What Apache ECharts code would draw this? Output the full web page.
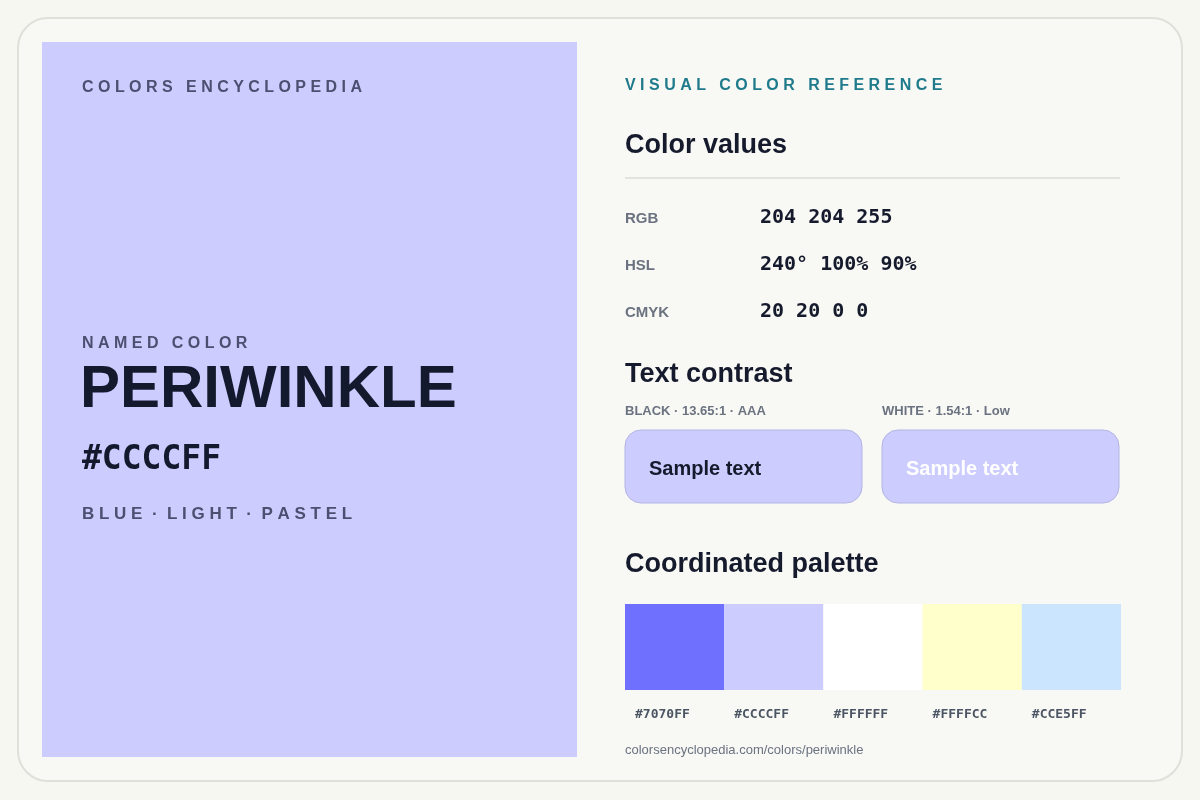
<!DOCTYPE html>
<html><head><meta charset="utf-8">
<script src="https://cdn.jsdelivr.net/npm/echarts@6/dist/echarts.min.js"></script>
<style>html,body{margin:0;padding:0;background:#f7f7f2}#c{width:1200px;height:800px}</style>
</head><body><div id="c"></div>
<script>
const paletteHex = ['#7070FF','#CCCCFF','#FFFFFF','#FFFFCC','#CCE5FF'];
const paletteValues = [1,1,1,1,1];
const valueLabels = ['RGB','HSL','CMYK'];
const valueTexts = ['204 204 255','240° 100% 90%','20 20 0 0'];
const contrastLabels = ['BLACK · 13.65:1 · AAA','WHITE · 1.54:1 · Low'];

const SANS = '"Liberation Sans", Arial, sans-serif';
const MONO = '"DejaVu Sans Mono", monospace';
const chart = echarts.init(document.getElementById('c'));
function t(x,y,text,size,color,font,weight,extra){
  return Object.assign({type:'text',x:x,y:y,style:{text:text,fontSize:size,fill:color,fontFamily:font||SANS,fontWeight:weight||'bold',textVerticalAlign:'middle'}},extra||{});
}
const g = [
  {type:'rect',shape:{x:18,y:18,width:1164,height:763,r:30},style:{fill:'#f8f8f4',stroke:'#e0e0da',lineWidth:2}},
  {type:'rect',shape:{x:42,y:42,width:535,height:715},style:{fill:'#ccccff'}},
  t(82,88,'C O L O R S   E N C Y C L O P E D I A',16,'#4b5070'),
  t(82,344,'N A M E D   C O L O R',16,'#4b5070'),
  t(80,390,'PERIWINKLE',60,'#141a2e'),
  t(82,460,'#CCCCFF',33,'#141a2e',MONO),
  t(82,514,'B L U E  ·  L I G H T  ·  P A S T E L',17,'#4b5070'),
  t(625,86,'V I S U A L   C O L O R   R E F E R E N C E',16,'#1f7a8c'),
  t(625,146,'Color values',27,'#151a2c'),
  {type:'line',shape:{x1:625,y1:178,x2:1120,y2:178},style:{stroke:'#e2e2de',lineWidth:2}},
  t(625,375,'Text contrast',27,'#151a2c'),
  t(625,565,'Coordinated palette',27,'#151a2c'),
  t(625,750,'colorsencyclopedia.com/colors/periwinkle',13,'#6b7280',SANS,'normal'),
];
valueLabels.forEach((l,i)=>{
  g.push(t(625,219+i*47,l,15,'#6b7280'));
  g.push(t(760,218+i*47,valueTexts[i],20,'#151a2c',MONO));
});
contrastLabels.forEach((l,i)=>{
  const x = 625+i*257;
  g.push(t(x,411,l,13,'#6b7280'));
  g.push({type:'rect',shape:{x:x,y:430,width:237,height:73,r:16},style:{fill:'#ccccff',stroke:'#b4b4e4',lineWidth:1}});
  g.push(t(x+24,469,'Sample text',20,i===0?'#151a2c':'#ffffff'));
});
chart.setOption({
  animation:false,
  graphic:g,
  grid:{left:625,top:604,width:496,height:86},
  xAxis:{type:'category',data:paletteHex,axisLine:{show:false},axisTick:{show:false},axisLabel:{show:false}},
  yAxis:{type:'value',min:0,max:1,show:false},
  series:[{type:'bar',barWidth:'100%',
    data:paletteValues.map((v,i)=>({value:v,itemStyle:{color:paletteHex[i]}})),
    label:{show:true,position:[10,111],formatter:p=>paletteHex[p.dataIndex],fontFamily:MONO,fontWeight:'bold',fontSize:13,color:'#4b5563',verticalAlign:'middle'}
  }]
});
</script></body></html>
